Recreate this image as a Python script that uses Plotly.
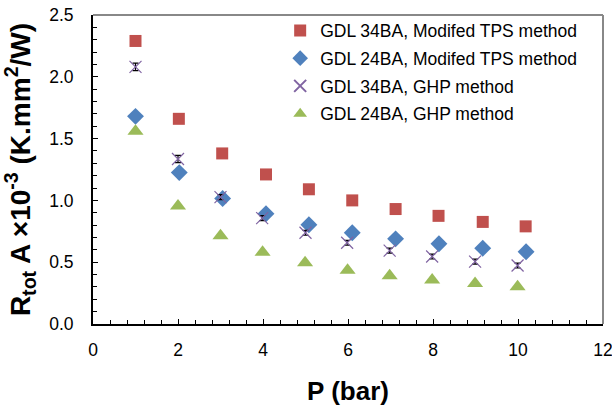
import plotly.graph_objects as go

# Data
p_34_tps = [1.0, 2.02, 3.04, 4.07, 5.08, 6.1, 7.12, 8.13, 9.17, 10.18]
r_34_tps = [2.29, 1.66, 1.38, 1.21, 1.09, 1.00, 0.93, 0.875, 0.826, 0.79]

p_24_tps = [1.0, 2.03, 3.05, 4.07, 5.08, 6.1, 7.12, 8.14, 9.17, 10.19]
r_24_tps = [1.68, 1.225, 1.015, 0.892, 0.803, 0.738, 0.689, 0.649, 0.613, 0.584]

p_34_ghp = [1.0, 2.0, 3.0, 3.98, 5.0, 5.98, 6.98, 7.98, 8.99, 9.99]
r_34_ghp = [2.08, 1.335, 1.027, 0.857, 0.738, 0.657, 0.594, 0.546, 0.505, 0.473]
e_34_ghp = [0.03, 0.03, 0.02, 0.02, 0.02, 0.02, 0.02, 0.02, 0.02, 0.02]

p_24_ghp = [1.0, 2.0, 3.0, 3.99, 4.99, 5.99, 6.98, 7.98, 8.99, 9.99]
r_24_ghp = [1.56, 0.955, 0.715, 0.58, 0.495, 0.434, 0.39, 0.356, 0.328, 0.302]

names = [
    "GDL 34BA, Modifed TPS method",
    "GDL 24BA, Modifed TPS method",
    "GDL 34BA, GHP method",
    "GDL 24BA, GHP method",
]

FONT = "Liberation Sans, Arial, sans-serif"

fig = go.Figure()
fig.add_trace(go.Scatter(x=p_34_tps, y=r_34_tps, mode="markers", name=names[0],
                         legendgroup="a",
                         marker=dict(symbol="square", size=12, color="#C0504D")))
fig.add_trace(go.Scatter(x=p_24_tps, y=r_24_tps, mode="markers", name=names[1],
                         legendgroup="b",
                         marker=dict(symbol="diamond", size=13, color="#4F81BD")))
fig.add_trace(go.Scatter(x=p_34_ghp, y=r_34_ghp, mode="markers", name=names[2],
                         legendgroup="c",
                         error_y=dict(type="data", array=e_34_ghp, color="black",
                                      thickness=1.2, width=3),
                         marker=dict(symbol="x-thin", size=12,
                                     line=dict(color="#8064A2", width=1.2),
                                     color="#8064A2")))
fig.add_trace(go.Scatter(x=p_24_ghp, y=r_24_ghp, mode="markers", name=names[3],
                         legendgroup="d",
                         marker=dict(symbol="triangle-up", size=14, color="#9BBB59")))

fig.update_layout(
    width=612, height=407,
    margin=dict(l=93, r=9, t=15, b=83, autoexpand=False),
    paper_bgcolor="white", plot_bgcolor="white",
    font=dict(family=FONT, size=17, color="black"),
    showlegend=True,
    legend=dict(x=0.367, y=1.008, xanchor="left", yanchor="top",
                bgcolor="rgba(0,0,0,0)", font=dict(size=17.5, family=FONT),
                tracegroupgap=2, itemwidth=30, itemsizing="constant"),
    xaxis=dict(range=[0, 12], dtick=2, tick0=0, showgrid=False, zeroline=False,
               showline=True, linecolor="black", linewidth=2,
               ticks="inside", ticklen=5, tickcolor="black", tickwidth=1,
               minor=dict(dtick=0.4, ticks="inside", ticklen=4, tickcolor="black"),
               tickfont=dict(size=17.5), ticklabelstandoff=9,
               ticklabeloverflow="allow", automargin=False,
               title=dict(text="<b>P (bar)</b>", font=dict(size=26), standoff=23)),
    yaxis=dict(range=[0, 2.5], dtick=0.5, tick0=0, tickformat=".1f",
               showgrid=False, zeroline=False,
               showline=True, linecolor="black", linewidth=2,
               ticks="inside", ticklen=5, tickcolor="black", tickwidth=1,
               minor=dict(dtick=0.1, ticks="inside", ticklen=4, tickcolor="black"),
               tickfont=dict(size=17.5), ticklabelstandoff=14,
               ticklabeloverflow="allow", automargin=False,
               title=dict(text="<b>R<sub>tot</sub> A ×10<sup>-3</sup> (K.mm<sup>2</sup>/W)</b>",
                          font=dict(size=28), standoff=12)),
    shapes=[
        dict(type="line", xref="paper", yref="paper", x0=0, x1=1, y0=1, y1=1,
             line=dict(color="#888888", width=2)),
        dict(type="line", xref="paper", yref="paper", x0=1, x1=1, y0=0, y1=1,
             line=dict(color="#888888", width=2)),
    ],
)

fig.write_html("out.html")
